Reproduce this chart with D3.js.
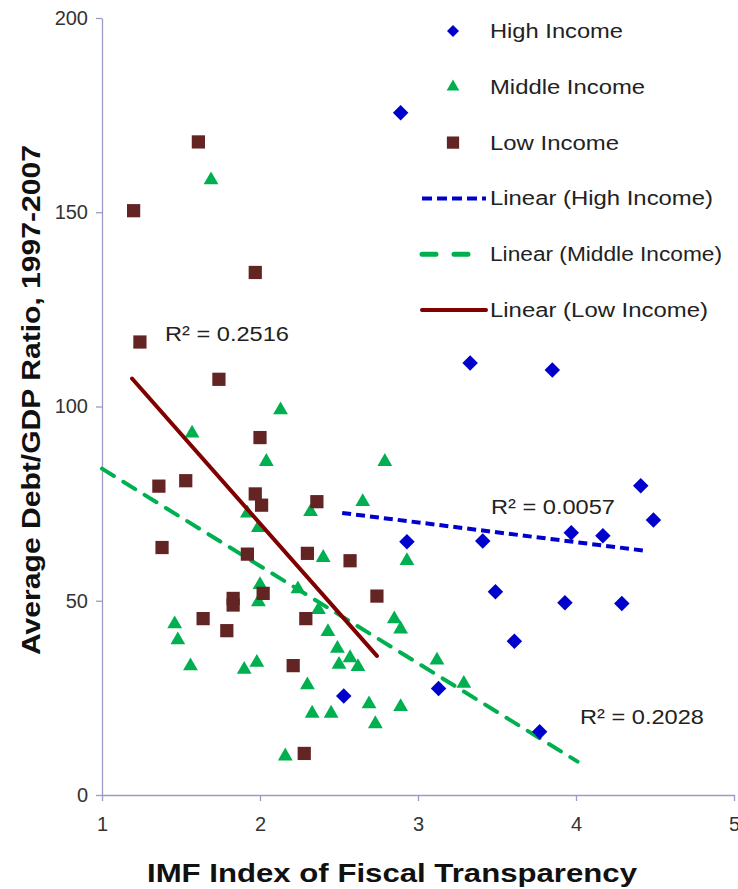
<!DOCTYPE html>
<html lang="en">
<head>
<meta charset="UTF-8">
<title>Debt/GDP vs Fiscal Transparency</title>
<script src="https://cdn.jsdelivr.net/npm/d3@7/dist/d3.min.js"></script>
<style>
    body { margin: 0; background: #fff; }
    .tick text { font-family: "Liberation Sans", Arial, sans-serif; font-size: 20px; fill: #333; }
    .axis path, .axis line { stroke: #9b9bc8; stroke-width: 1.3; }
    .ttl { font-family: "Liberation Sans", Arial, sans-serif; font-weight: bold; fill: #111; }
    .lg, .r2 { font-family: "Liberation Sans", Arial, sans-serif; font-size: 20px; fill: #222; }
</style>
</head>
<body>
<svg id="main" width="738" height="889"></svg>
<script>
    // data
    let highX = [2.89, 3.33, 3.85, 4.41, 4.49, 3.97, 4.17, 2.93, 3.41, 3.49, 3.93, 4.29, 3.61, 2.53, 3.13, 3.77];
    let highY = [175.6, 111.2, 109.4, 79.6, 70.8, 67.5, 66.7, 65.2, 65.4, 52.3, 49.5, 49.3, 39.6, 25.5, 27.4, 16.3];

    let midX = [1.69, 2.13, 1.57, 2.04, 2.79, 2.65, 2.32, 1.92, 1.99, 2.40, 2.93, 2.00, 2.24, 1.99, 2.37, 2.85, 1.46, 2.43,
                2.89, 1.48, 2.49, 2.57, 3.12, 1.56, 2.50, 1.98, 2.62, 1.90, 3.29, 2.30, 2.69, 2.89, 2.33, 2.45, 2.73, 2.16];
    let midY = [158.3, 99.1, 93.1, 85.8, 85.8, 75.5, 72.9, 72.5, 68.8, 61.1, 60.3, 54.1, 53.0, 49.7, 47.7, 45.3, 44.0, 42.0,
                42.7, 39.9, 37.7, 35.3, 34.7, 33.2, 33.6, 34.1, 33.0, 32.3, 28.7, 28.3, 23.4, 22.7, 21.0, 21.0, 18.3, 10.0];

    let lowX = [1.61, 1.20, 1.97, 1.24, 1.74, 2.00, 1.36, 1.53, 1.97, 2.01, 2.36, 1.38, 1.92, 2.30, 2.57, 2.02, 1.83, 1.83,
                1.64, 1.79, 2.29, 2.74, 2.21, 2.28];
    let lowY = [168.1, 150.4, 134.5, 116.6, 107.0, 92.0, 79.5, 80.9, 77.5, 74.6, 75.5, 63.7, 62.0, 62.2, 60.3, 51.9, 50.6, 48.9,
                45.4, 42.3, 45.4, 51.2, 33.3, 10.7];

    // trend line end points [x, y]
    let highTrend = [[2.52, 72.6], [4.45, 62.8]];
    let midTrend = [[1.0, 84.0], [4.01, 8.6]];
    let lowTrend = [[1.19, 107.2], [2.74, 35.8]];

    let xTicks = [1, 2, 3, 4, 5];
    let yTicks = [0, 50, 100, 150, 200];

    let svg = d3.select('svg#main');
    let x = d3.scaleLinear().domain([1, 5]).range([102, 734]);
    let y = d3.scaleLinear().domain([0, 200]).range([795, 18]);

    // axes
    svg.append('g').attr('class', 'axis').attr('transform', 'translate(0,795)')
        .call(d3.axisBottom(x).tickValues(xTicks).tickSize(6).tickSizeOuter(0).tickPadding(16).tickFormat(d3.format('d')));
    svg.append('g').attr('class', 'axis').attr('transform', 'translate(102,0)')
        .call(d3.axisLeft(y).tickValues(yTicks).tickSize(6).tickSizeOuter(0).tickPadding(8));

    svg.append('text').attr('class', 'ttl').attr('x', 392).attr('y', 882)
        .attr('text-anchor', 'middle').style('font-size', '26px')
        .attr('textLength', 490).attr('lengthAdjust', 'spacingAndGlyphs')
        .text('IMF Index of Fiscal Transparency');
    svg.append('text').attr('class', 'ttl')
        .attr('transform', 'translate(40,400) rotate(-90)')
        .attr('text-anchor', 'middle').style('font-size', '25px')
        .attr('textLength', 510).attr('lengthAdjust', 'spacingAndGlyphs')
        .text('Average Debt/GDP Ratio, 1997-2007');

    let blue = '#0000cc', green = '#00b050', brown = '#632523', maroon = '#800000';
    let tri = d3.symbol().type(d3.symbolTriangle).size(95);
    let sq = d3.symbol().type(d3.symbolSquare).size(175);
    let dia = d3.symbol().type(d3.symbolSquare).size(120);

    // trend lines
    let line = d3.line().x(d => x(d[0])).y(d => y(d[1]));
    svg.append('path').attr('d', line(midTrend)).attr('fill', 'none').attr('stroke', green)
        .attr('stroke-width', 4).attr('stroke-dasharray', '14,11').attr('stroke-linecap', 'round');

    // points
    svg.append('g').selectAll('path').data(midX).enter().append('path')
        .attr('d', tri).attr('fill', green)
        .attr('transform', (d, i) => 'translate(' + x(d) + ',' + y(midY[i]) + ')');
    svg.append('g').selectAll('path').data(lowX).enter().append('path')
        .attr('d', sq).attr('fill', brown)
        .attr('transform', (d, i) => 'translate(' + x(d) + ',' + y(lowY[i]) + ')');
    svg.append('g').selectAll('path').data(highX).enter().append('path')
        .attr('d', dia).attr('fill', blue)
        .attr('transform', (d, i) => 'translate(' + x(d) + ',' + y(highY[i]) + ') rotate(45)');

    svg.append('path').attr('d', line(highTrend)).attr('fill', 'none').attr('stroke', blue)
        .attr('stroke-width', 4).attr('stroke-dasharray', '9,5');
    svg.append('path').attr('d', line(lowTrend)).attr('fill', 'none').attr('stroke', maroon)
        .attr('stroke-width', 4).attr('stroke-linecap', 'round');

    // R² labels
    let r2 = [
        {t: 'R² = 0.2516', x: 165, y: 341},
        {t: 'R² = 0.0057', x: 491, y: 514},
        {t: 'R² = 0.2028', x: 580, y: 724}
    ];
    svg.append('g').selectAll('text').data(r2).enter().append('text').attr('class', 'r2')
        .attr('x', d => d.x).attr('y', d => d.y)
        .attr('textLength', 124).attr('lengthAdjust', 'spacingAndGlyphs')
        .text(d => d.t);

    // legend
    let legend = [
        {name: 'High Income', kind: 'dia', w: 133},
        {name: 'Middle Income', kind: 'tri', w: 155},
        {name: 'Low Income', kind: 'sq', w: 129},
        {name: 'Linear (High Income)', kind: 'lh', w: 223},
        {name: 'Linear (Middle Income)', kind: 'lm', w: 232},
        {name: 'Linear (Low Income)', kind: 'll', w: 218}
    ];
    let lg = svg.append('g').selectAll('g').data(legend).enter().append('g')
        .attr('transform', (d, i) => 'translate(0,' + (31 + i * 55.8) + ')');
    lg.append('text').attr('class', 'lg').attr('x', 490).attr('y', 7)
        .attr('textLength', d => d.w).attr('lengthAdjust', 'spacingAndGlyphs')
        .text(d => d.name);
    lg.filter(d => d.kind == 'dia').append('path').attr('d', d3.symbol().type(d3.symbolSquare).size(72))
        .attr('fill', blue).attr('transform', 'translate(453,0) rotate(45)');
    lg.filter(d => d.kind == 'tri').append('path').attr('d', d3.symbol().type(d3.symbolTriangle).size(70))
        .attr('fill', green).attr('transform', 'translate(453,0)');
    lg.filter(d => d.kind == 'sq').append('path').attr('d', d3.symbol().type(d3.symbolSquare).size(150))
        .attr('fill', brown).attr('transform', 'translate(453,0)');
    lg.filter(d => d.kind == 'lh').append('line').attr('x1', 422).attr('x2', 486)
        .attr('stroke', blue).attr('stroke-width', 4).attr('stroke-dasharray', '10,5');
    lg.filter(d => d.kind == 'lm').append('line').attr('x1', 422).attr('x2', 472)
        .attr('stroke', green).attr('stroke-width', 5).attr('stroke-dasharray', '14,18').attr('stroke-linecap', 'round');
    lg.filter(d => d.kind == 'll').append('line').attr('x1', 422).attr('x2', 486)
        .attr('stroke', maroon).attr('stroke-width', 4).attr('stroke-linecap', 'round');
</script>
</body>
</html>
